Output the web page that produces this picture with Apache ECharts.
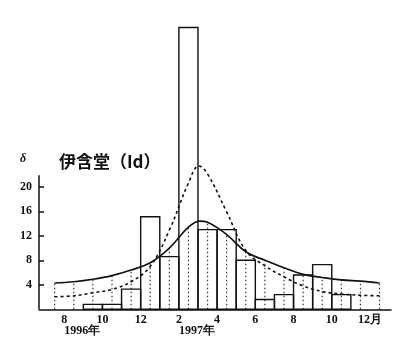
<!DOCTYPE html>
<html><head><meta charset="utf-8">
<script src="https://cdn.jsdelivr.net/npm/echarts@6/dist/echarts.min.js"></script>
<style>html,body{margin:0;padding:0;background:#fff}#c{width:418px;height:360px}</style>
</head><body><div id="c"></div>
<script>
// Month index: 0 = Aug 1996, 6 = Feb 1997, 16 = Dec 1997
const monthTicks = [0, 2, 4, 6, 8, 10, 12, 14, 16];
const monthLabels = ['8', '10', '12', '2', '4', '6', '8', '10', '12月'];
const yearTicks = [0, 6];
const yearLabels = ['1996年', '1997年'];
const yTicks = [4, 8, 12, 16, 20];
const yTickLabels = ['4', '8', '12', '16', '20'];
// observed monthly values (bar starts at month index)
const barStarts = [1, 2, 3, 4, 5, 6, 7, 8, 9, 10, 11, 12, 13, 14];
const barValues = [0.8, 0.8, 3.3, 15.1, 8.6, 46.0, 13.0, 13.0, 8.0, 1.6, 2.4, 5.6, 7.3, 2.4];
// fitted curves at mid-month positions
const midX = [-0.5, 0.5, 1.5, 2.5, 3.5, 4.5, 5.5, 6.5, 7.5, 8.5, 9.5, 10.5, 11.5, 12.5, 13.5, 14.5, 15.5, 16.5];
const solidFit = [4.3, 4.5, 4.9, 5.5, 6.4, 7.6, 10.0, 13.4, 14.2, 12.2, 9.4, 8.0, 6.8, 5.7, 5.2, 4.8, 4.6, 4.3];
const dashFit = [2.05, 2.2, 2.7, 3.25, 4.5, 7.0, 12.9, 20.6, 22.1, 15.9, 9.6, 7.1, 5.3, 3.8, 2.9, 2.5, 2.3, 2.2];
const solidPeak = [7.1, 14.4];
const dashPeak = [7.05, 23.4];
const yAxisTop = 21.9;

const xMin = -1.32, xMax = 17.1;

function withPeak(xs, ys, peak) {
  const pts = xs.map((x, i) => [x, ys[i]]);
  pts.push(peak);
  pts.sort((a, b) => a[0] - b[0]);
  return pts;
}

const numFont = 'Liberation Serif';
const chart = echarts.init(document.getElementById('c'), null, {renderer: 'canvas'});
chart.setOption({
  animation: false,
  backgroundColor: '#fff',
  title: [
    {text: 'δ', left: 20, top: 153, padding: 0,
     textStyle: {fontFamily: numFont, fontStyle: 'italic', fontWeight: 'bold', fontSize: 12, color: '#111'}},
    {text: '伊含堂（Id）', left: 59, top: 153, padding: 0,
     textStyle: {fontFamily: 'Noto Sans CJK JP', fontWeight: 'bold', fontSize: 17, color: '#111'}}
  ],
  grid: {left: 39, right: 27, top: 3, bottom: 50.7},
  xAxis: [
    {type: 'value', min: xMin, max: xMax,
     axisLine: {show: true, onZero: false, lineStyle: {color: '#111', width: 1.5}},
     axisTick: {show: false}, splitLine: {show: false},
     axisLabel: {customValues: monthTicks, margin: 5,
       formatter: v => monthLabels[monthTicks.indexOf(v)] || '',
       fontFamily: numFont, fontWeight: 'bold', fontSize: 12, color: '#111'}},
    {type: 'value', min: xMin, max: xMax, position: 'bottom',
     axisLine: {show: false, onZero: false}, axisTick: {show: false}, splitLine: {show: false},
     axisLabel: {customValues: yearTicks, margin: 16, align: 'left',
       formatter: v => yearLabels[yearTicks.indexOf(v)] || '',
       fontFamily: numFont, fontWeight: 'bold', fontSize: 12, color: '#111'}}
  ],
  yAxis: {type: 'value', min: 0, max: 50,
    axisLine: {show: false, onZero: false}, splitLine: {show: false},
    axisTick: {show: true, inside: true, length: 5, customValues: yTicks, lineStyle: {color: '#111', width: 1.5}},
    axisLabel: {customValues: yTicks, margin: 7,
      formatter: v => yTickLabels[yTicks.indexOf(v)] || '',
      fontFamily: numFont, fontWeight: 'bold', fontSize: 12, color: '#111'}},
  series: [
    {type: 'custom', data: [[xMin, yAxisTop]], clip: false, z: 5,
     renderItem(params, api) {
       const a = api.coord([api.value(0), 0]);
       const b = api.coord([api.value(0), api.value(1)]);
       return {type: 'line', shape: {x1: a[0], y1: a[1], x2: b[0], y2: b[1]},
               style: {stroke: '#111', lineWidth: 1.5}};
     }},
    {type: 'custom', data: midX.map((x, i) => [x, solidFit[i]]),
     renderItem(params, api) {
       const a = api.coord([api.value(0), 0]);
       const b = api.coord([api.value(0), api.value(1)]);
       return {type: 'line', shape: {x1: a[0], y1: a[1], x2: b[0], y2: b[1]},
               style: {stroke: '#333', lineWidth: 1.2, lineDash: [1.5, 2.5]}};
     }},
    {type: 'custom', data: barStarts.map((s, i) => [s, barValues[i]]),
     renderItem(params, api) {
       const s = api.value(0), v = api.value(1);
       const p0 = api.coord([s, 0]);
       const p1 = api.coord([s + 1, v]);
       return {type: 'rect', shape: {x: p0[0], y: p1[1], width: p1[0] - p0[0], height: p0[1] - p1[1]},
               style: {fill: 'none', stroke: '#111', lineWidth: 1.4}};
     }},
    {type: 'line', data: withPeak(midX, solidFit, solidPeak), symbol: 'none', smooth: 0.4,
     lineStyle: {color: '#111', width: 1.6}},
    {type: 'line', data: withPeak(midX, dashFit, dashPeak), symbol: 'none', smooth: 0.4,
     lineStyle: {color: '#111', width: 1.6, type: [3, 3]}}
  ]
});
</script>
</body></html>
